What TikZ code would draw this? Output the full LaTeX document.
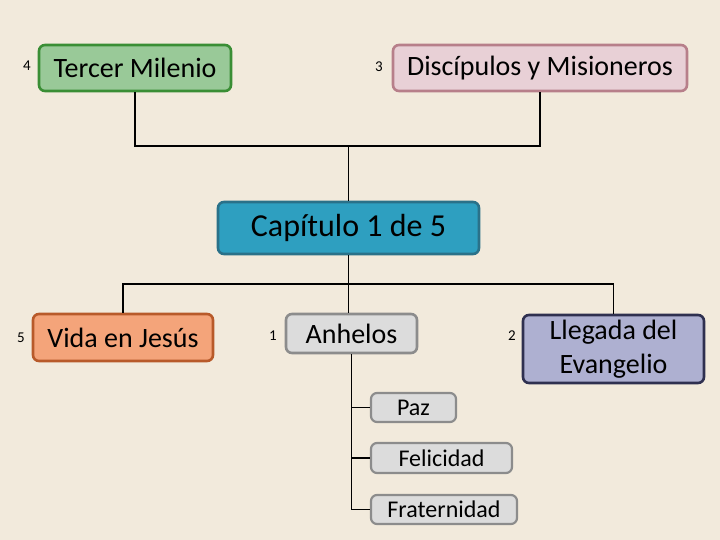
\documentclass[tikz,border=0pt]{standalone}
\usepackage{fontspec}
\setmainfont{Carlito}
\definecolor{bg}{HTML}{F2EADC}
\definecolor{tmfill}{HTML}{99C998}
\definecolor{tmdraw}{HTML}{3A8E35}
\definecolor{dmfill}{HTML}{E8D0D6}
\definecolor{dmdraw}{HTML}{B77F8A}
\definecolor{capfill}{HTML}{2E9FC0}
\definecolor{capdraw}{HTML}{2A7189}
\definecolor{vjfill}{HTML}{F4A47A}
\definecolor{vjdraw}{HTML}{B85A2A}
\definecolor{grfill}{HTML}{DCDCDC}
\definecolor{grdraw}{HTML}{8C8C8C}
\definecolor{llfill}{HTML}{AEB0D1}
\definecolor{lldraw}{HTML}{2F3050}
\begin{document}
\begin{tikzpicture}[x=1pt,y=-1pt,
  box/.style={rounded corners=6pt,line width=2.6pt,inner sep=0pt,align=center,font=\fontsize{28}{34}\selectfont},
  kid/.style={box,line width=2.2pt,draw=grdraw,fill=grfill,font=\fontsize{24}{28}\selectfont},
  num/.style={font=\fontsize{15}{17}\selectfont,inner sep=0pt},
  conn/.style={line width=1.3pt,black}]
\fill[bg] (0,0) rectangle (720,540);
\useasboundingbox (0,0) rectangle (720,540);
\node[box,draw=tmdraw,fill=tmfill,minimum width=192pt,minimum height=46pt] (T) at (135,68) {Tercer Milenio};
\node[box,draw=dmdraw,fill=dmfill,minimum width=294pt,minimum height=46pt] (D) at (540,68) {Discípulos y Misioneros};
\node[box,draw=capdraw,fill=capfill,minimum width=261pt,minimum height=52pt,font=\fontsize{32}{38}\selectfont] (C) at (348.5,228) {Capítulo 1 de 5};
\node[box,draw=vjdraw,fill=vjfill,minimum width=180pt,minimum height=47pt] (V) at (123,337.5) {Vida en Jesús};
\node[box,draw=grdraw,fill=grfill,minimum width=131pt,minimum height=39pt] (A) at (351.5,333.5) {Anhelos};
\node[box,draw=lldraw,fill=llfill,minimum width=181pt,minimum height=68pt] (L) at (613.5,349) {Llegada del\\Evangelio};
\node[kid,minimum width=85pt,minimum height=29pt] (P) at (413.5,407.5) {Paz};
\node[kid,minimum width=141pt,minimum height=30pt] (F) at (441.5,458) {Felicidad};
\node[kid,minimum width=146pt,minimum height=29pt] (R) at (444,509.5) {Fraternidad};
\node[num] (n4) at (27,66) {4};
\node[num] (n3) at (379,67) {3};
\node[num] (n5) at (21,338) {5};
\node[num] (n1) at (273,336) {1};
\node[num] (n2) at (512,336) {2};
\coordinate (j1) at (348.5,146);
\coordinate (j2) at (348.5,284);
\draw[conn] (T.south) |- (j1) -| (D.south);
\draw[conn] (j1) -- (C.north);
\draw[conn] (C.south) -- (j2 |- A.north);
\draw[conn] (V.north) |- (j2) -| (L.north);
\draw[conn] (A.south) |- (P.west);
\draw[conn] (A.south) |- (F.west);
\draw[conn] (A.south) |- (R.west);
\end{tikzpicture}
\end{document}
